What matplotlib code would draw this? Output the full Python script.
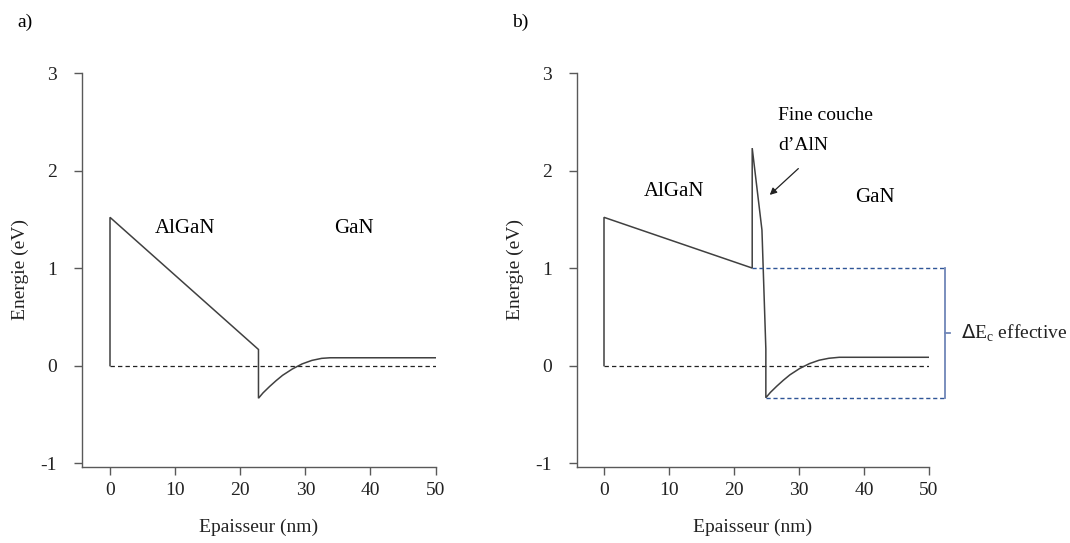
import matplotlib
matplotlib.use("Agg")
import matplotlib.pyplot as plt

plt.rcParams['font.family'] = ['Liberation Serif', 'DejaVu Serif']

# ---- data ----
xticks = [0, 10, 20, 30, 40, 50]
yticks = [-1, 0, 1, 2, 3]

# panel a) conduction band
a_x = [0, 0, 22.8, 22.8, 23.5, 24.5, 25.5, 26.5, 28.0, 29.5, 31.0, 32.5, 33.8, 50]
a_y = [0, 1.52, 0.165, -0.335, -0.28, -0.215, -0.155, -0.10, -0.035, 0.017, 0.053, 0.074, 0.08, 0.08]

# panel b) conduction band with thin AlN layer
b_x = [0, 0, 22.8, 22.8, 24.3, 24.9, 24.9, 25.6, 26.6, 27.6, 28.6, 30.1, 31.6, 33.1, 34.6, 36.2, 50]
b_y = [0, 1.52, 1.0, 2.23, 1.39, 0.17, -0.33, -0.275, -0.21, -0.15, -0.095, -0.03, 0.02, 0.055, 0.075, 0.085, 0.085]

fermi_x = [0, 50]
fermi_y = [0, 0]

dec_top = 1.0
dec_bot = -0.33
dec_x_top = 22.8
dec_x_bot = 24.9
bracket_x = 52.5

LINE = '#404040'
AX = '#595959'
BLUE = '#2F5597'
BLUE2 = '#6F86B8'
FS = 14

fig = plt.figure(figsize=(10.70, 5.43), dpi=100)
axA = fig.add_axes([82/1070, 1-467/543, (435.6-82)/1070, (467-73)/543])
axB = fig.add_axes([576.7/1070, 1-467/543, (929-576.7)/1070, (467-73)/543])

for ax, xl in ((axA, -4.3), (axB, -4.2)):
    ax.set_xlim(xl, 50)
    ax.set_ylim(-1.04, 3)
    ax.set_xticks(xticks)
    ax.set_yticks(yticks)
    ax.set_yticklabels([str(v) for v in yticks])
    for s in ('top', 'right'):
        ax.spines[s].set_visible(False)
    for s in ('left', 'bottom'):
        ax.spines[s].set_color(AX)
        ax.spines[s].set_linewidth(1.0)
    ax.tick_params(direction='out', length=6, width=1.0, color=AX,
                   labelsize=FS, labelcolor='#222222')
    ax.tick_params(axis='x', pad=5)
    ax.tick_params(axis='y', pad=12)
    ax.set_xlabel('Epaisseur (nm)', fontsize=FS, labelpad=14, color='#222222')
    ax.set_ylabel('Energie (eV)', fontsize=FS, labelpad=8, color='#222222')
    ax.plot(fermi_x, fermi_y, color='#222222', lw=0.9, ls=(0, (3.5, 2.5)))

axA.plot(a_x, a_y, color=LINE, lw=1.1, solid_joinstyle='miter')
axB.plot(b_x, b_y, color=LINE, lw=1.1, solid_joinstyle='miter')

# blue dashed guides and bracket
axB.plot([dec_x_top, bracket_x], [dec_top, dec_top], color=BLUE, lw=1.0,
         ls=(0, (3, 2)), clip_on=False)
axB.plot([dec_x_bot, bracket_x], [dec_bot, dec_bot], color=BLUE, lw=1.0,
         ls=(0, (3, 2)), clip_on=False)
mid = (dec_top + dec_bot) / 2
axB.plot([bracket_x, bracket_x], [dec_top, dec_bot], color=BLUE2, lw=1.3, clip_on=False)
axB.plot([bracket_x, bracket_x + 0.8], [mid, mid], color=BLUE2, lw=1.3, clip_on=False)
axB.text(bracket_x + 2.4, mid, r'$\Delta$E$_\mathregular{c}$ effective', fontsize=FS,
         va='center', ha='left', color='#222222', clip_on=False)

# labels
axA.text(11.5, 1.41, 'AlGaN', fontsize=15, ha='center', va='center')
axA.text(37.4, 1.41, 'GaN', fontsize=15, ha='center', va='center')
axB.text(10.8, 1.78, 'AlGaN', fontsize=15, ha='center', va='center')
axB.text(41.7, 1.72, 'GaN', fontsize=15, ha='center', va='center')
axB.text(26.8, 2.56, 'Fine couche', fontsize=FS, ha='left', va='center')
axB.text(26.8, 2.26, 'd\u2019AlN', fontsize=FS, ha='left', va='center')
axB.annotate('', xy=(25.5, 1.75), xytext=(29.9, 2.02),
             arrowprops=dict(arrowstyle='-|>', color='#222222', lw=0.9,
                             mutation_scale=10, shrinkA=0, shrinkB=0))

fig.text(17/1070, 1-22/543, 'a)', fontsize=FS, ha='left', va='center')
fig.text(512/1070, 1-22/543, 'b)', fontsize=FS, ha='left', va='center')

fig.savefig('out.png', dpi=100)
